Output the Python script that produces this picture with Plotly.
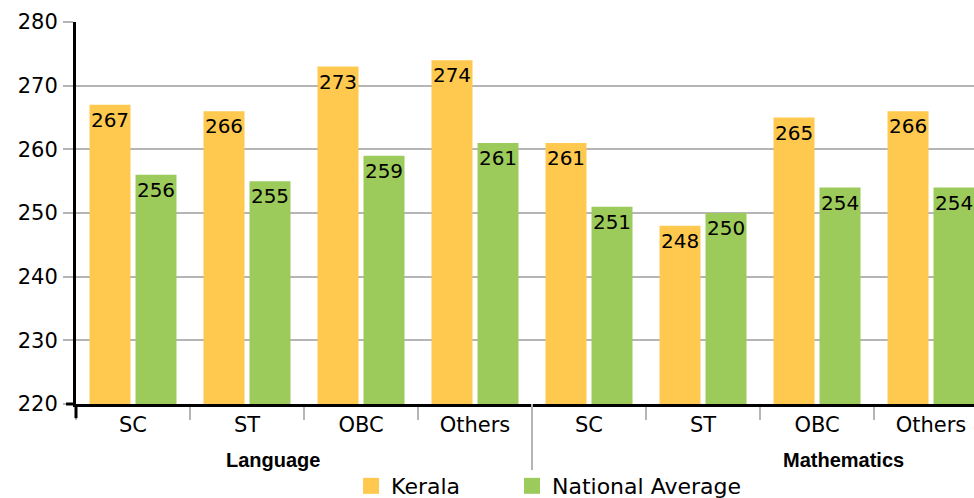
import plotly.graph_objects as go

subjects = ["Language", "Mathematics"]
categories = ["SC", "ST", "OBC", "Others", "SC", "ST", "OBC", "Others"]
kerala = [267, 266, 273, 274, 261, 248, 265, 266]
national = [256, 255, 259, 261, 251, 250, 254, 254]
y_ticks = [220, 230, 240, 250, 260, 270, 280]

xpos = list(range(len(categories)))
FONT = "DejaVu Sans"
YELLOW = "#FFC94F"
GREEN = "#9DCB5B"
GRID = "#b5b5b5"

fig = go.Figure()
fig.add_trace(go.Bar(
    x=xpos, y=kerala, name="Kerala", marker=dict(color=YELLOW, line=dict(width=0)),
    text=[str(v) for v in kerala], textposition="inside", insidetextanchor="end",
    textangle=0, constraintext="none", textfont=dict(family=FONT, size=20, color="black"),
    showlegend=False,
))
fig.add_trace(go.Bar(
    x=xpos, y=national, name="National Average", marker=dict(color=GREEN, line=dict(width=0)),
    text=[str(v) for v in national], textposition="inside", insidetextanchor="end",
    textangle=0, constraintext="none", textfont=dict(family=FONT, size=20, color="black"),
    showlegend=False,
))
# legend entries (no drawn marks) with larger square swatches
fig.add_trace(go.Scatter(x=[None], y=[None], mode="markers", name="Kerala",
                         marker=dict(symbol="square", size=20, color=YELLOW),
                         showlegend=True, legend="legend"))
fig.add_trace(go.Scatter(x=[None], y=[None], mode="markers", name="National Average",
                         marker=dict(symbol="square", size=20, color=GREEN),
                         showlegend=True, legend="legend2"))

legend_common = dict(orientation="h", xref="paper", xanchor="left",
                     yref="container", y=0.024, yanchor="middle",
                     font=dict(family=FONT, size=22, color="black"),
                     bgcolor="rgba(0,0,0,0)")

fig.update_layout(
    width=974, height=498,
    margin=dict(l=76, r=0, t=22, b=94, autoexpand=False),
    plot_bgcolor="white", paper_bgcolor="white",
    barmode="group", bargap=0.193, bargroupgap=0.1087,
    font=dict(family=FONT, size=20, color="black"),
    showlegend=True,
    legend=dict(x=0.3063, **legend_common),
    legend2=dict(x=0.4855, **legend_common),
)
fig.update_xaxes(
    range=[-0.5, 7.377], tickmode="array", tickvals=xpos, ticktext=categories,
    ticks="", showgrid=False, zeroline=False, automargin=False,
    showline=True, linecolor="black", linewidth=3,
    tickfont=dict(family=FONT, size=21, color="black"),
    minor=dict(tick0=0.5, dtick=1, ticks="outside", ticklen=13, tickcolor=GRID, tickwidth=2, showgrid=False),
)
fig.update_yaxes(
    range=[220, 280], tickmode="array", tickvals=y_ticks, automargin=False,
    ticks="outside", ticklen=10, tickcolor=GRID, tickwidth=1.5,
    showgrid=True, gridcolor=GRID, gridwidth=1.5, zeroline=False,
    showline=True, linecolor="black", linewidth=3,
    tickfont=dict(family=FONT, size=21, color="black"), ticklabelstandoff=1,
)

# group labels
fig.add_annotation(x=1.23, xref="x", y=-0.147, yref="paper", text="<b>Language</b>",
                   showarrow=False, yanchor="middle", font=dict(family="Liberation Sans", size=20, color="black"))
fig.add_annotation(x=6.23, xref="x", y=-0.147, yref="paper", text="<b>Mathematics</b>",
                   showarrow=False, yanchor="middle", font=dict(family="Liberation Sans", size=20, color="black"))

# group divider and axis cross extensions
fig.add_shape(type="line", xref="x", x0=3.5, x1=3.5, yref="paper", y0=0, y1=-0.173,
              line=dict(color=GRID, width=2), layer="above")
fig.add_shape(type="line", xref="paper", x0=0, x1=0, yref="paper", y0=0, y1=-0.037,
              line=dict(color="black", width=3), layer="above")
fig.add_shape(type="line", xref="paper", x0=-0.0111, x1=0, yref="paper", y0=0, y1=0,
              line=dict(color="black", width=3), layer="above")

# remove the default page margin so the 974x498 figure fills the window exactly
fig.write_html("out.html", config={"displayModeBar": False},
               post_script="document.body.style.margin='0px';")
